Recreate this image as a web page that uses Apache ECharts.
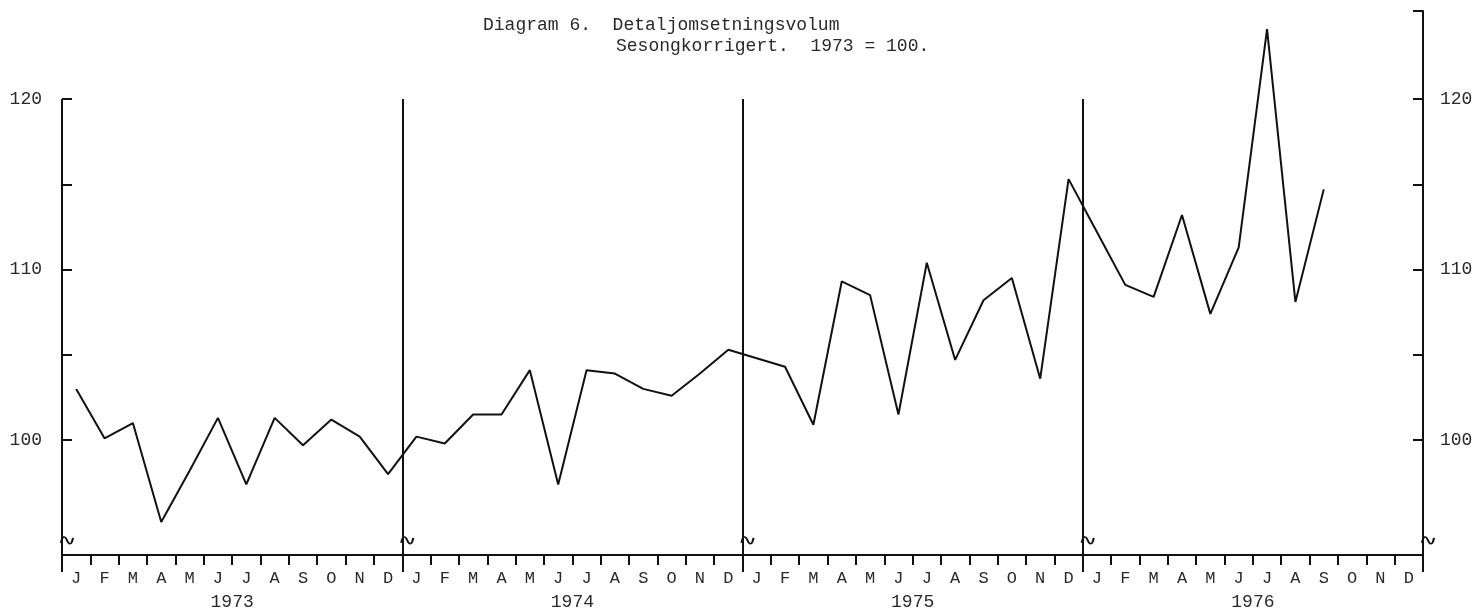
<!DOCTYPE html>
<html>
<head>
<meta charset="utf-8">
<style>
  html, body { margin: 0; padding: 0; background: #fff; }
  #chart { width: 1480px; height: 614px; }
</style>
<script src="https://cdn.jsdelivr.net/npm/echarts@6/dist/echarts.min.js"></script>
</head>
<body>
<div id="chart"></div>
<script>
// ---- data ----
const years = ['1973', '1974', '1975', '1976'];
const monthLetters = ['J', 'F', 'M', 'A', 'M', 'J', 'J', 'A', 'S', 'O', 'N', 'D'];
const v1973 = [103.0, 100.1, 101.0, 95.2, 98.2, 101.3, 97.4, 101.3, 99.7, 101.2, 100.2, 98.0];
const v1974 = [100.2, 99.8, 101.5, 101.5, 104.1, 97.4, 104.1, 103.9, 103.0, 102.6, 103.9, 105.3];
const v1975 = [104.8, 104.3, 100.9, 109.3, 108.5, 101.5, 110.4, 104.7, 108.2, 109.5, 103.6, 115.3];
const v1976 = [112.2, 109.1, 108.4, 113.2, 107.4, 111.3, 124.1, 108.1, 114.7];
const yTicks = [100, 105, 110, 115, 120];
const yLabels = [100, 110, 120];
const titleLine1 = 'Diagram 6.  Detaljomsetningsvolum';
const titleLine2 = 'Sesongkorrigert.  1973 = 100.';

// ---- derived ----
const yMin = 93.26, yMax = 125.16, yTop = 120, yBreak = 94.12;
const values = [].concat(v1973, v1974, v1975, v1976);
const monthCats = [];
years.forEach(() => monthLetters.forEach(m => monthCats.push(m)));
const nMonths = monthCats.length;
const lineData = values.map((v, i) => [i + 0.5, v]);
const boundaries = years.map((y, i) => i * 12).concat([nMonths]);

const ink = '#111';
const labelColor = '#2a2a2a';
const mono = '"Liberation Mono", "DejaVu Sans Mono", monospace';

const vLines = boundaries.slice(0, 4).map(x => [
  { coord: [x, yTop] }, { coord: [x, yMin] }
]);
const breakPts = boundaries.map(x => ({ coord: [x, yBreak] }));

const chart = echarts.init(document.getElementById('chart'), null, { renderer: 'canvas' });
chart.setOption({
  animation: false,
  backgroundColor: '#fff',
  title: [
    { text: titleLine1, left: 478, top: 11,
      textStyle: { fontFamily: mono, fontSize: 18, fontWeight: 'normal', color: labelColor } },
    { text: titleLine2, left: 611, top: 32,
      textStyle: { fontFamily: mono, fontSize: 18, fontWeight: 'normal', color: labelColor } }
  ],
  grid: { left: 62, right: 57, top: 11, bottom: 59, containLabel: false },
  xAxis: [
    { type: 'value', min: 0, max: nMonths, show: false },
    { type: 'category', data: monthCats, boundaryGap: true, position: 'bottom',
      axisLine: { show: true, lineStyle: { color: ink, width: 2 } },
      axisTick: { show: true, length: 10, lineStyle: { color: ink, width: 2 } },
      axisLabel: { interval: 0, margin: 15, fontFamily: mono, fontSize: 17, color: labelColor },
      splitLine: { show: false } },
    { type: 'category', data: years, boundaryGap: true, position: 'bottom',
      axisLine: { show: false },
      axisTick: { show: true, length: 17, lineStyle: { color: ink, width: 2 } },
      axisLabel: { interval: 0, margin: 38, fontFamily: mono, fontSize: 18, color: labelColor },
      splitLine: { show: false } }
  ],
  yAxis: [
    { type: 'value', min: yMin, max: yMax, position: 'left',
      axisLine: { show: false },
      axisTick: { show: true, inside: true, length: 10, customValues: yTicks,
                  lineStyle: { color: ink, width: 2 } },
      axisLabel: { margin: 20, customValues: yLabels, fontFamily: mono, fontSize: 18, color: labelColor },
      splitLine: { show: false } },
    { type: 'value', min: yMin, max: yMax, position: 'right',
      axisLine: { show: true, lineStyle: { color: ink, width: 2 } },
      axisTick: { show: true, inside: true, length: 10, customValues: yTicks.concat([yMax]),
                  lineStyle: { color: ink, width: 2 } },
      axisLabel: { margin: 17, customValues: yLabels, fontFamily: mono, fontSize: 18, color: labelColor },
      splitLine: { show: false } }
  ],
  series: [
    {
      type: 'line', xAxisIndex: 0, yAxisIndex: 0,
      data: lineData, showSymbol: false, symbol: 'none',
      lineStyle: { color: ink, width: 2 },
      z: 5,
      markLine: {
        silent: true, symbol: ['none', 'none'],
        label: { show: false },
        lineStyle: { color: ink, width: 2, type: 'solid' },
        data: vLines
      },
      markPoint: {
        silent: true,
        symbol: 'path://M0,6 C2,0 5,0 8,4 C11,8 14,8 16,2',
        symbolSize: [12, 7],
        symbolOffset: [5, 0],
        label: { show: false },
        itemStyle: { color: 'rgba(0,0,0,0)', borderColor: ink, borderWidth: 1.6 },
        data: breakPts
      }
    }
  ]
});
</script>
</body>
</html>
